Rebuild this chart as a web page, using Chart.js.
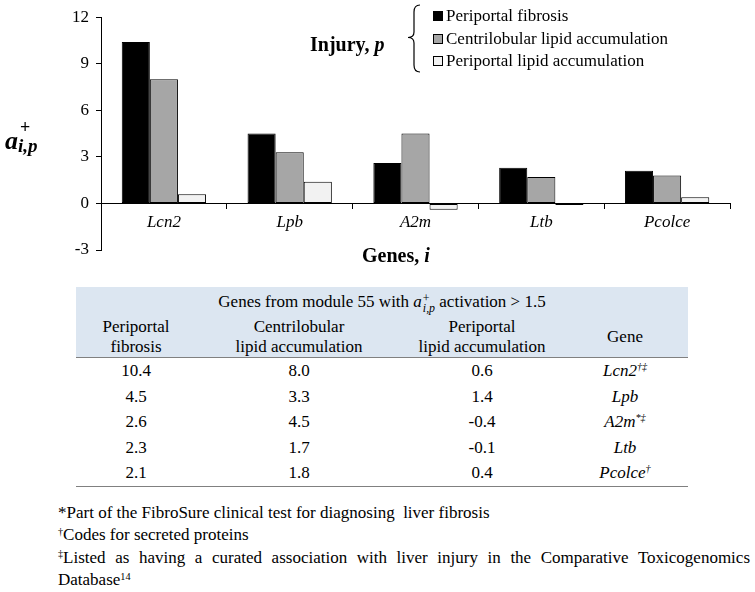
<!DOCTYPE html>
<html>
<head>
<meta charset="utf-8">
<script src="https://cdn.jsdelivr.net/npm/chart.js@4.4.1/dist/chart.umd.min.js"></script>
<style>
  body { margin: 0; background: #fff; }
  #wrap { position: relative; width: 755px; height: 592px; font-family: 'Liberation Serif', serif; color: #000; }
  #chartBox { position: absolute; left: 0; top: 0; width: 755px; height: 275px; }
  .abs { position: absolute; line-height: 1; white-space: nowrap; }
  #legend .item { position: absolute; left: 433px; font-size: 17px; line-height: 20px; white-space: nowrap; }
  #legend .sw { display: inline-block; width: 8px; height: 8px; border: 1px solid #000; margin-right: 3px; vertical-align: 0px; }
  #tbl { position: absolute; left: 76px; top: 287px; width: 612px; border-collapse: collapse; table-layout: fixed; font-size: 17px; }
  #tbl thead tr { background: #dce6f1; }
  #tbl th { font-weight: normal; padding: 0; text-align: center; }
  #tbl tr.t th { height: 30px; line-height: 30px; }
  #tbl tr.h th { height: 40px; line-height: 20px; border-bottom: 1.5px solid #808080; }
  #tbl td { height: 25.5px; line-height: 25.5px; padding: 0; text-align: center; }
  #tbl tbody tr:last-child td { border-bottom: 1.5px solid #808080; }
  .ss { display: inline-block; vertical-align: -0.4em; font-size: 0.7em; line-height: 0.8em; text-align: left; margin-left: 1px; }
  .ss span { display: block; }
  sup { font-size: 0.6em; line-height: 0; vertical-align: baseline; position: relative; top: -0.55em; }
  #notes { position: absolute; left: 58px; top: 502px; width: 692px; font-size: 17px; line-height: 22.4px; }
  #notes div { height: 22.4px; }
  #notes .j { text-align: justify; text-align-last: justify; text-justify: inter-word; }
  .ib { display: inline-block; }
</style>
</head>
<body>
<div id="wrap">
  <div id="chartBox"><canvas id="myChart"></canvas></div>

  <!-- y axis title a+ i,p -->
  <div class="abs" style="left:5px; top:126px; font: italic bold 26px 'Liberation Serif';">a</div>
  <div class="abs" style="left:20px; top:117px; font: bold 18px 'Liberation Serif';">+</div>
  <div class="abs" style="left:18px; top:135px; font: italic bold 19px 'Liberation Serif';">i,p</div>

  <!-- x axis title -->
  <div class="abs" style="left:362px; top:244px; font: bold 20px 'Liberation Serif';">Genes, <i>i</i></div>

  <!-- legend -->
  <div class="abs" style="left:310px; top:33px; font: bold 20px 'Liberation Serif';">Injury, <i>p</i></div>
  <svg class="abs" style="left:0; top:0;" width="755" height="80">
    <path d="M420,5 Q414,5 414,12 L414,32 Q414,37.5 408,37.5 Q414,37.5 414,43 L414,65 Q414,72 420,72" fill="none" stroke="#000" stroke-width="1.2"/>
  </svg>
  <div id="legend"></div>

  <table id="tbl">
    <colgroup><col style="width:120px"><col style="width:206px"><col style="width:160px"><col style="width:126px"></colgroup>
    <thead>
      <tr class="t"><th colspan="4">Genes from module 55 with <i>a</i><span class="ss"><span>+</span><span><i>i,p</i></span></span> activation &gt; 1.5</th></tr>
      <tr class="h"><th>Periportal<br>fibrosis</th><th>Centrilobular<br>lipid accumulation</th><th>Periportal<br>lipid accumulation</th><th>Gene</th></tr>
    </thead>
    <tbody id="tbody"></tbody>
  </table>

  <div id="notes">
    <div>*Part of the FibroSure clinical test for diagnosing &nbsp;liver fibrosis</div>
    <div><sup>†</sup>Codes for secreted proteins</div>
    <div class="j"><span class="ib"><sup>‡</sup>Listed</span> as having a curated association with liver injury in the Comparative Toxicogenomics</div>
    <div>Database<sup>14</sup></div>
  </div>
</div>

<script>
const genes = ["Lcn2", "Lpb", "A2m", "Ltb", "Pcolce"];
const geneMarks = ["†‡", "", "*‡", "", "†"];
const injuries = ["Periportal fibrosis", "Centrilobular lipid accumulation", "Periportal lipid accumulation"];
const periportalFibrosis = [10.4, 4.5, 2.6, 2.3, 2.1];
const centrilobularLipid = [8.0, 3.3, 4.5, 1.7, 1.8];
const periportalLipid = [0.6, 1.4, -0.4, -0.1, 0.4];
const barColors = ["#000000", "#a6a6a6", "#f2f2f2"];
const yMin = -3, yMax = 12, yStep = 3;

const serif = "'Liberation Serif', 'Times New Roman', serif";
const series = [periportalFibrosis, centrilobularLipid, periportalLipid];

new Chart("myChart", {
  type: "bar",
  data: {
    labels: genes,
    datasets: series.map((vals, k) => ({
      label: injuries[k],
      data: vals,
      backgroundColor: barColors[k],
      borderColor: "#000",
      borderWidth: 1,
      borderSkipped: false,
      categoryPercentage: 0.67,
      barPercentage: 1
    }))
  },
  options: {
    responsive: true,
    maintainAspectRatio: false,
    animation: false,
    layout: { padding: { left: 0, top: 12, right: 25, bottom: 25 } },
    plugins: {
      legend: { display: false },
      tooltip: { enabled: false }
    },
    scales: {
      x: {
        position: { y: 0 },
        grid: { drawOnChartArea: false, color: "#000", tickLength: 5 },
        border: { color: "#000", width: 1 },
        ticks: { color: "#000", padding: 4, font: { family: serif, size: 17, style: "italic" } },
        afterFit: (scale) => { scale.height = 0; }
      },
      y: {
        min: yMin,
        max: yMax,
        grid: { drawOnChartArea: false, color: "#000", tickLength: 5 },
        border: { color: "#000", width: 1 },
        ticks: { stepSize: yStep, color: "#000", padding: 7, font: { family: serif, size: 17 } },
        afterFit: (scale) => { scale.width = 101; }
      }
    }
  }
});

// legend from the series names
const legend = document.getElementById("legend");
injuries.forEach((name, k) => {
  const d = document.createElement("div");
  d.className = "item";
  d.style.top = (6 + k * 22.5) + "px";
  d.innerHTML = '<span class="sw" style="background:' + barColors[k] + '"></span>' + name;
  legend.appendChild(d);
});

// table rows from the same arrays
const tbody = document.getElementById("tbody");
genes.forEach((g, i) => {
  const tr = document.createElement("tr");
  const mark = geneMarks[i] ? "<sup><i>" + geneMarks[i] + "</i></sup>" : "";
  tr.innerHTML = "<td>" + periportalFibrosis[i].toFixed(1) + "</td><td>" + centrilobularLipid[i].toFixed(1) +
    "</td><td>" + periportalLipid[i].toFixed(1) + "</td><td><i>" + g + "</i>" + mark + "</td>";
  tbody.appendChild(tr);
});
</script>
</body>
</html>
